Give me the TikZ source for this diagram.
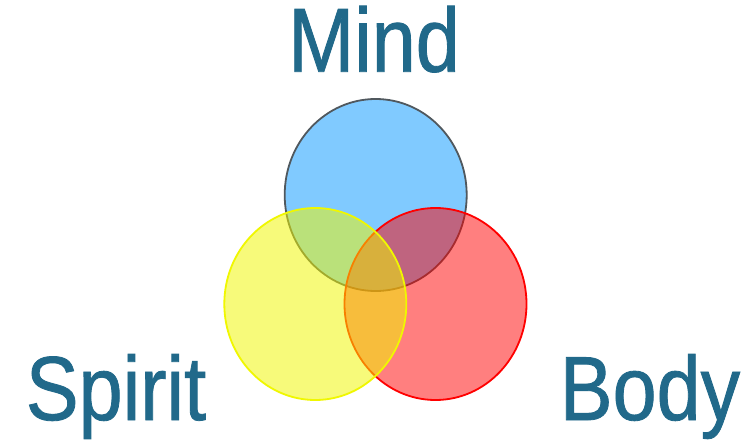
\documentclass[tikz,border=0pt]{standalone}
\usepackage{fontspec}
\setmainfont{Liberation Sans}[FakeStretch=0.87,FakeBold=0.9]
\definecolor{labelblue}{RGB}{33,105,138}
\definecolor{mindfill}{RGB}{128,202,255}
\definecolor{mindline}{RGB}{80,88,94}
\definecolor{spiritcol}{RGB}{240,247,0}
\begin{document}
\begin{tikzpicture}[x=1pt,y=-1pt,
  lab/.style={anchor=base, text=labelblue, font=\fontsize{91}{91}\selectfont, inner sep=0pt},
  ring/.style={line width=1.8pt}]
\useasboundingbox (0,0) rectangle (752,441);
\fill[white] (0,0) rectangle (752,441);
\draw[ring, draw=mindline, fill=mindfill] (375.7,195) ellipse [x radius=91, y radius=96];
\draw[ring, draw=red, fill=red, fill opacity=0.5] (435.5,304) ellipse [x radius=91, y radius=96];
\draw[ring, draw=spiritcol, fill=spiritcol, fill opacity=0.52] (315.3,304) ellipse [x radius=91, y radius=96];
\node[lab] (mind) at (374,71.7) {Mind};
\node[lab] (spirit) at (116,420) {Spirit};
\node[lab] (body) at (650,420) {Body};
\end{tikzpicture}
\end{document}
